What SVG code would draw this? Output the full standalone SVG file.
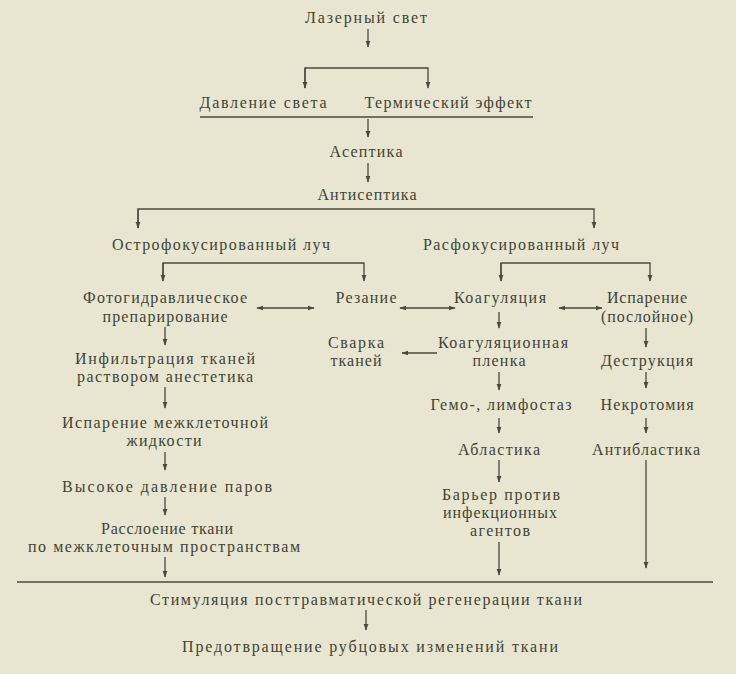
<svg xmlns="http://www.w3.org/2000/svg" width="736" height="674" viewBox="0 0 736 674">
<defs>
<style>
text{font-family:"Liberation Serif","DejaVu Serif",serif;font-size:16px;fill:#404337;text-anchor:middle}
.c line,.c path{stroke:#484a3e;stroke-width:1.3;fill:none}
.a{marker-end:url(#ah)}
.d{marker-start:url(#ah);marker-end:url(#ah)}
</style>
<marker id="ah" viewBox="0 0 10 8" refX="9" refY="4" markerWidth="7" markerHeight="6" markerUnits="userSpaceOnUse" orient="auto-start-reverse">
<path d="M0,0.5 L10,4 L0,7.5 z" fill="#484a3e"/>
</marker>
</defs>
<rect width="736" height="674" fill="#e8e6d0"/>

<g class="c" id="connectors">
<line class="a" x1="368" y1="29" x2="368" y2="47"/>
<path class="a" d="M305,88 V68 H428 V88"/>
<line x1="305" y1="68" x2="305" y2="88" class="a"/>
<line x1="200" y1="117" x2="533" y2="117"/>
<line class="a" x1="368" y1="119" x2="368" y2="137"/>
<line class="a" x1="368" y1="163" x2="368" y2="182"/>
<path class="a" d="M138,228 V209 H594 V228"/>
<line class="a" x1="138" y1="209" x2="138" y2="228"/>
<path class="a" d="M163,281 V263 H364 V281"/>
<line class="a" x1="163" y1="263" x2="163" y2="281"/>
<path class="a" d="M501,281 V263 H650 V281"/>
<line class="a" x1="501" y1="263" x2="501" y2="281"/>
<line class="d" x1="257" y1="308" x2="314" y2="308"/>
<line class="d" x1="400" y1="308" x2="455" y2="308"/>
<line class="d" x1="559" y1="308" x2="602" y2="308"/>
<line class="a" x1="499" y1="312" x2="499" y2="328"/>
<line class="a" x1="646" y1="328" x2="646" y2="347"/>
<line class="a" x1="437" y1="353" x2="402" y2="353"/>
<line class="a" x1="499" y1="372" x2="499" y2="390"/>
<line class="a" x1="646" y1="372" x2="646" y2="388"/>
<line class="a" x1="499" y1="418" x2="499" y2="433"/>
<line class="a" x1="646" y1="418" x2="646" y2="433"/>
<line class="a" x1="499" y1="460" x2="499" y2="482"/>
<line class="a" x1="646" y1="460" x2="646" y2="568"/>
<line class="a" x1="499" y1="542" x2="499" y2="575"/>
<line class="a" x1="165" y1="327" x2="165" y2="345"/>
<line class="a" x1="165" y1="387" x2="165" y2="408"/>
<line class="a" x1="165" y1="452" x2="165" y2="470"/>
<line class="a" x1="165" y1="497" x2="165" y2="515"/>
<line class="a" x1="165" y1="557" x2="165" y2="577"/>
<line x1="17" y1="582" x2="713" y2="582"/>
<line class="a" x1="366" y1="610" x2="366" y2="630"/>
</g>

<g id="n-laser"><text x="366" y="23" textLength="122" lengthAdjust="spacing">Лазерный свет</text></g>
<g id="n-pressure"><text x="263" y="108" textLength="127" lengthAdjust="spacing">Давление света</text></g>
<g id="n-thermal"><text x="448" y="108" textLength="167" lengthAdjust="spacing">Термический эффект</text></g>
<g id="n-asepsis"><text x="366" y="157" textLength="73" lengthAdjust="spacing">Асептика</text></g>
<g id="n-antisepsis"><text x="367" y="200" textLength="99" lengthAdjust="spacing">Антисептика</text></g>
<g id="n-focused"><text x="221" y="250" textLength="218" lengthAdjust="spacing">Острофокусированный луч</text></g>
<g id="n-defocused"><text x="521" y="250" textLength="196" lengthAdjust="spacing">Расфокусированный луч</text></g>
<g id="n-photohydraulic">
<text x="165" y="303" textLength="164" lengthAdjust="spacing">Фотогидравлическое</text>
<text x="165" y="322" textLength="125" lengthAdjust="spacing">препарирование</text>
</g>
<g id="n-cutting"><text x="366" y="303" textLength="61" lengthAdjust="spacing">Резание</text></g>
<g id="n-coagulation"><text x="500" y="303" textLength="92" lengthAdjust="spacing">Коагуляция</text></g>
<g id="n-vaporization">
<text x="647" y="303" textLength="80" lengthAdjust="spacing">Испарение</text>
<text x="647" y="322" textLength="92" lengthAdjust="spacing">(послойное)</text>
</g>
<g id="n-welding">
<text x="356" y="348" textLength="56" lengthAdjust="spacing">Сварка</text>
<text x="356" y="366" textLength="51" lengthAdjust="spacing">тканей</text>
</g>
<g id="n-film">
<text x="503" y="348" textLength="130" lengthAdjust="spacing">Коагуляционная</text>
<text x="499" y="366" textLength="53" lengthAdjust="spacing">пленка</text>
</g>
<g id="n-destruction"><text x="647" y="366" textLength="92" lengthAdjust="spacing">Деструкция</text></g>
<g id="n-infiltration">
<text x="165" y="364" textLength="180" lengthAdjust="spacing">Инфильтрация тканей</text>
<text x="165" y="382" textLength="176" lengthAdjust="spacing">раствором анестетика</text>
</g>
<g id="n-evaporation">
<text x="165" y="428" textLength="206" lengthAdjust="spacing">Испарение межклеточной</text>
<text x="164" y="446" textLength="75" lengthAdjust="spacing">жидкости</text>
</g>
<g id="n-highpressure"><text x="167" y="492" textLength="210" lengthAdjust="spacing">Высокое давление паров</text></g>
<g id="n-delamination">
<text x="167" y="534" textLength="132" lengthAdjust="spacing">Расслоение ткани</text>
<text x="164" y="552" textLength="272" lengthAdjust="spacing">по межклеточным пространствам</text>
</g>
<g id="n-hemostasis"><text x="501" y="410" textLength="141" lengthAdjust="spacing">Гемо-, лимфостаз</text></g>
<g id="n-necrotomy"><text x="647" y="410" textLength="93" lengthAdjust="spacing">Некротомия</text></g>
<g id="n-ablastics"><text x="499" y="455" textLength="82" lengthAdjust="spacing">Абластика</text></g>
<g id="n-antiblastics"><text x="646" y="455" textLength="108" lengthAdjust="spacing">Антибластика</text></g>
<g id="n-barrier">
<text x="501" y="500" textLength="118" lengthAdjust="spacing">Барьер против</text>
<text x="500" y="518" textLength="114" lengthAdjust="spacing">инфекционных</text>
<text x="500" y="536" textLength="60" lengthAdjust="spacing">агентов</text>
</g>
<g id="n-stimulation"><text x="366" y="605" textLength="432" lengthAdjust="spacing">Стимуляция посттравматической регенерации ткани</text></g>
<g id="n-prevention"><text x="370" y="652" textLength="376" lengthAdjust="spacing">Предотвращение рубцовых изменений ткани</text></g>
</svg>
